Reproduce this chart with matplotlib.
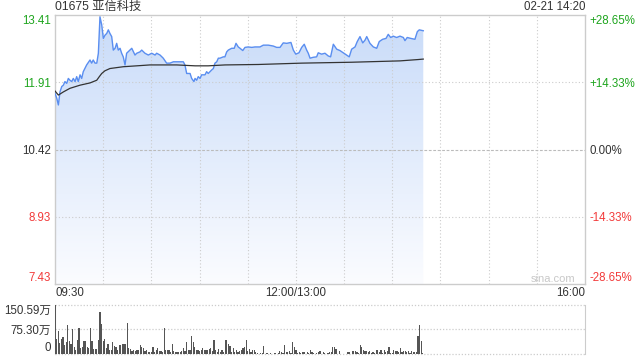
import numpy as np
import matplotlib
matplotlib.use("Agg")
import matplotlib.pyplot as plt
from matplotlib.colors import LinearSegmentedColormap
from matplotlib.patches import Polygon

plt.rcParams['font.family'] = ['Liberation Sans', 'Noto Sans CJK SC', 'DejaVu Sans']
plt.rcParams['axes.unicode_minus'] = False

# 价格走势 (分钟, 09:30 起, 午休已去掉)
price_min = [0, 1.1, 2.1, 3.1, 4.2, 5.2, 6.2, 7.3, 8.3, 9.3, 10.4, 11.4, 12.5, 13.5, 14.5,
             15.6, 16.6, 17.6, 19.7, 21.8, 22.8, 23.8, 24.9, 26.0, 27.0, 27.6, 28.0, 29.1,
             30.1, 31.1, 32.2, 33.2, 34.2, 35.3, 36.3, 37.4, 38.4, 39.4, 40.5, 41.5, 42.5,
             43.6, 44.6, 46.7, 47.8, 49.8, 50.9, 52.9, 54.0, 56.0, 58.1, 60.2, 62.3, 63.3,
             65.4, 67.4, 69.5, 71.6, 73.7, 75.8, 77.8, 79.9, 80.9, 82.0, 84.1, 85.1, 86.5,
             87.2, 88.2, 89.2, 90.3, 91.3, 93.4, 94.4, 95.4, 97.6, 98.6, 99.6, 100.7, 101.7,
             102.7, 104.8, 105.8, 106.9, 107.9, 110.0, 111.6, 112.7, 114.1, 115.2, 116.9,
             118.3, 120.3, 122.5, 124.5, 127.6, 129.7, 132.8, 135.9, 138.0, 140.1, 142.1,
             144.3, 146.9, 148.4, 149.9, 151.9, 153.6, 155.2, 156.7, 157.7, 158.8, 160.8,
             162.9, 163.9, 166.0, 168.1, 170.1, 171.6, 173.3, 175.4, 177.4, 179.5, 181.6,
             183.2, 184.7, 186.8, 188.2, 189.9, 191.6, 193.0, 194.1, 196.1, 198.2, 200.3,
             201.9, 204.0, 206.1, 207.5, 209.0, 210.6, 212.7, 214.8, 216.9, 217.9, 219.3,
             221.5, 224.1, 225.6, 226.8, 229.3]
price_val = [11.67, 11.56, 11.41, 11.70, 11.82, 11.85, 11.93, 11.89, 12.00, 11.96, 11.93,
             12.00, 11.93, 12.04, 11.93, 12.08, 12.00, 12.15, 12.30, 12.41, 12.34, 12.41,
             12.34, 12.34, 12.56, 13.08, 13.37, 13.19, 12.89, 12.96, 13.00, 13.08, 13.00,
             12.93, 12.63, 12.67, 12.78, 12.63, 12.67, 12.56, 12.48, 12.30, 12.56, 12.63,
             12.67, 12.52, 12.56, 12.59, 12.63, 12.56, 12.52, 12.56, 12.52, 12.56, 12.52,
             12.45, 12.34, 12.34, 12.37, 12.37, 12.37, 12.37, 12.30, 12.11, 12.11, 12.00,
             11.93, 12.00, 11.96, 12.04, 12.00, 12.08, 12.08, 12.15, 12.11, 12.19, 12.22,
             12.34, 12.37, 12.45, 12.45, 12.48, 12.48, 12.59, 12.63, 12.67, 12.67, 12.78,
             12.70, 12.67, 12.62, 12.69, 12.70, 12.69, 12.70, 12.70, 12.74, 12.74, 12.72,
             12.69, 12.69, 12.79, 12.78, 12.80, 12.63, 12.54, 12.57, 12.69, 12.76, 12.63,
             12.56, 12.45, 12.47, 12.48, 12.57, 12.54, 12.56, 12.50, 12.48, 12.76, 12.65,
             12.62, 12.57, 12.52, 12.48, 12.65, 12.70, 12.82, 12.93, 12.79, 12.85, 12.93,
             12.78, 12.70, 12.67, 12.82, 12.87, 12.89, 12.98, 12.91, 12.94, 12.91, 12.94,
             12.91, 12.84, 12.91, 12.89, 12.87, 13.04, 13.08, 13.06]

# 均价线
avg_min = [0, 2.1, 5.2, 9.3, 15.6, 21.8, 26.0, 27.6, 29.1, 31.1, 34.2, 42.5, 50.9, 59.1,
           75.8, 87.2, 95.4, 105.8, 126.6, 153.6, 184.7, 214.8, 226.2, 229.3]
avg_val = [11.72, 11.63, 11.70, 11.78, 11.85, 11.90, 11.96, 12.04, 12.11, 12.17, 12.22,
           12.26, 12.28, 12.30, 12.30, 12.28, 12.28, 12.30, 12.31, 12.34, 12.36, 12.39,
           12.42, 12.43]

# 成交量 (万股), 每分钟一根
volume = [150, 47, 72, 34, 46, 51, 29, 36, 90, 41, 30, 77, 21, 13, 42, 81, 18, 20, 41, 41,
          20, 18, 81, 41, 16, 16, 16, 42, 130, 93, 41, 46, 18, 31, 13, 13, 36, 25, 23, 11,
          29, 29, 32, 32, 32, 96, 17, 16, 9, 11, 8, 13, 13, 28, 21, 18, 8, 11, 6, 7,
          6, 23, 6, 13, 18, 8, 10, 6, 81, 11, 13, 11, 6, 30, 8, 6,
          6, 6, 6, 8, 18, 8, 36, 13, 13, 56, 36, 20, 13, 11, 8, 11, 18, 11, 13, 13,
          16, 18, 8, 44, 13, 6, 15, 6, 13, 5, 42, 44, 31, 26, 6, 18, 5, 11, 5, 8,
          13, 18, 23, 44, 8, 15, 6, 11, 11, 6, 3, 1, 3, 3, 25, 1, 3, 1, 3, 1,
          1, 3, 1, 3, 8, 6, 3, 28, 5, 6, 10, 3, 38, 23, 13, 3, 6,
          3, 5, 5, 1, 5, 3, 13, 5, 3, 1, 3, 5, 8, 1, 5, 3, 1, 3, 5, 5,
          20, 23, 16, 1, 10, 0, 0, 0, 1, 5, 5, 1, 8, 10, 8, 5, 3, 28, 21, 13,
          8, 10, 6, 8, 3, 6, 3, 13, 13, 5, 11, 3, 13, 5, 8, 21, 3, 3, 13, 8,
          8, 5, 18, 5, 8, 8, 5, 8, 3, 8, 5, 6, 5, 56, 90, 39, 3]

price_ticks = [7.43, 8.93, 10.42, 11.91, 13.41]
pct_labels = ['-28.65%', '-14.33%', '0.00%', '+14.33%', '+28.65%']
vol_ticks = [0, 75.30, 150.59]
vol_labels = ['0', '75.30万', '150.59万']

GREEN = '#1ea51e'
RED = '#f23a3a'
DARK = '#333333'
GRID = '#cccccc'
tick_colors = [RED, RED, DARK, GREEN, GREEN]

W, H = 640, 360
fig = plt.figure(figsize=(6.4, 3.6), dpi=100)
ax = fig.add_axes([55 / W, 1 - 284 / H, 530 / W, 269 / H])
axv = fig.add_axes([55 / W, 1 - 354 / H, 530 / W, 49 / H])

ymin, ymax = price_ticks[0], price_ticks[-1]
ax.set_xlim(0, 330)
ax.set_ylim(ymin, ymax)

# 渐变填充
cmap = LinearSegmentedColormap.from_list('fill', ['#fbfcff', '#c8dbf9'])
grad = np.linspace(0, 1, 256).reshape(-1, 1)
im = ax.imshow(grad, cmap=cmap, origin='lower', aspect='auto',
               extent=[0, 330, ymin, ymax], zorder=1)
verts = np.column_stack([np.r_[price_min[0], price_min, price_min[-1]],
                         np.r_[ymin, price_val, ymin]])
patch = Polygon(verts, closed=True, facecolor='none', edgecolor='none')
ax.add_patch(patch)
im.set_clip_path(patch)

ax.plot(price_min, price_val, color='#5a8ef0', lw=1.0, zorder=4)
ax.plot(avg_min, avg_val, color=DARK, lw=0.9, zorder=5)

# 网格
for t in range(30, 330, 30):
    ax.axvline(t, color=GRID, lw=0.8, ls=(0, (1, 2)), zorder=2)
for p in price_ticks[1:-1]:
    ls = (0, (2.5, 1.5)) if p == 10.42 else (0, (1, 2))
    ax.axhline(p, color=GRID if p != 10.42 else '#bbbbbb', lw=0.8, ls=ls, zorder=2)
for s in ax.spines.values():
    s.set_color(GRID)
    s.set_linewidth(1)

ax.set_xticks([])
ax.set_yticks(price_ticks)
ax.set_yticklabels([f'{p:.2f}' for p in price_ticks], fontsize=8.3)
ax.tick_params(axis='y', length=0, pad=3)
for lab, c in zip(ax.get_yticklabels(), tick_colors):
    lab.set_color(c)
ax.get_yticklabels()[0].set_va('bottom')
ax.get_yticklabels()[-1].set_va('top')

axr = ax.twinx()
axr.set_ylim(ymin, ymax)
axr.set_yticks(price_ticks)
axr.set_yticklabels(pct_labels, fontsize=8.3)
axr.tick_params(axis='y', length=0, pad=3)
for lab, c in zip(axr.get_yticklabels(), tick_colors):
    lab.set_color(c)
axr.get_yticklabels()[0].set_va('bottom')
axr.get_yticklabels()[-1].set_va('top')
for s in axr.spines.values():
    s.set_visible(False)

# 成交量
axv.bar(np.arange(len(volume)), volume, width=0.75, color='#555555', linewidth=0, zorder=3)
axv.set_xlim(0, 330)
axv.set_ylim(0, vol_ticks[-1])
for v in vol_ticks:
    axv.axhline(v, color=GRID, lw=0.9, ls=(0, (1, 1.5)), zorder=1, clip_on=False)
axv.spines['top'].set_visible(False)
axv.spines['bottom'].set_visible(False)
axv.spines['left'].set_color(GRID)
axv.spines['right'].set_color(GRID)
axv.set_xticks([])
axv.set_yticks(vol_ticks)
axv.set_yticklabels(vol_labels, fontsize=8.3, color=DARK)
axv.tick_params(axis='y', length=0, pad=3)
axv.get_yticklabels()[0].set_va('bottom')
axv.get_yticklabels()[-1].set_va('top')

# 文字
fig.text(55 / W, 1 - 7 / H, '01675 亚信科技', fontsize=8.8, color=DARK, va='center', ha='left')
fig.text(585 / W, 1 - 7 / H, '02-21 14:20', fontsize=8.3, color=DARK, va='center', ha='right')
fig.text(55 / W, 1 - 293 / H, '09:30', fontsize=8.3, color=DARK, va='center', ha='left')
fig.text(296 / W, 1 - 293 / H, '12:00/13:00', fontsize=8.3, color=DARK, va='center', ha='center')
fig.text(585 / W, 1 - 293 / H, '16:00', fontsize=8.3, color=DARK, va='center', ha='right')
fig.text(553 / W, 1 - 279 / H, 'sina.com', fontsize=8, color='#c8c8c8', va='center', ha='center')

fig.savefig('out.png', dpi=100)
